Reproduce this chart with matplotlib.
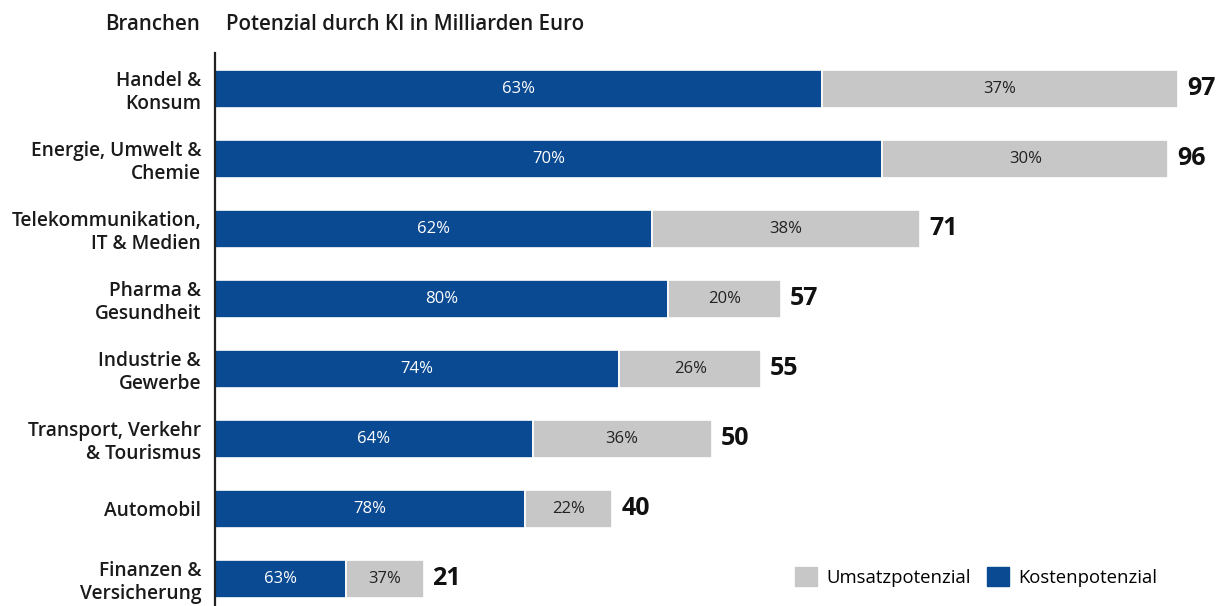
import numpy as np
import matplotlib.pyplot as plt
from matplotlib.patches import Patch

plt.rcParams['font.family'] = ['Open Sans', 'DejaVu Sans']

branchen = ['Handel &\nKonsum', 'Energie, Umwelt &\nChemie', 'Telekommunikation,\nIT & Medien',
            'Pharma &\nGesundheit', 'Industrie &\nGewerbe', 'Transport, Verkehr\n& Tourismus',
            'Automobil', 'Finanzen &\nVersicherung']
gesamt = [97, 96, 71, 57, 55, 50, 40, 21]
kosten_pct = [63, 70, 62, 80, 74, 64, 78, 63]
umsatz_pct = [37, 30, 38, 20, 26, 36, 22, 37]

blau = '#0a4a92'
grau = '#c6c7c6'

W, H = 1227, 606
fig = plt.figure(figsize=(W / 100, H / 100), dpi=100)
ax = fig.add_axes([215 / W, 0, 1012 / W, 553 / H])

y = np.arange(len(branchen))
kosten = np.array(gesamt) * np.array(kosten_pct) / 100
umsatz = np.array(gesamt) * np.array(umsatz_pct) / 100

ax.barh(y, kosten, height=0.55, color=blau, edgecolor='white', linewidth=1.2)
ax.barh(y, umsatz, left=kosten, height=0.55, color=grau, edgecolor='white', linewidth=1.2)

for i in range(len(branchen)):
    ax.text(kosten[i] / 2, y[i], f'{kosten_pct[i]}%', color='white', ha='center', va='center', fontsize=12)
    ax.text(kosten[i] + umsatz[i] / 2, y[i], f'{umsatz_pct[i]}%', color='#222222', ha='center', va='center', fontsize=12)
    ax.text(gesamt[i] + 0.9, y[i], str(gesamt[i]), ha='left', va='center', fontsize=18, fontweight='bold', color='#111111')

ax.set_xlim(0, 101.9)
ax.set_ylim(7.386, -0.514)
ax.set_yticks(y)
ax.set_yticklabels(branchen, fontsize=13.8, fontweight='semibold', color='#1a1a1a', linespacing=1.2)
ax.tick_params(axis='y', length=0, pad=10)
ax.set_xticks([])
for s in ['top', 'right', 'bottom']:
    ax.spines[s].set_visible(False)
ax.spines['left'].set_linewidth(1.6)
ax.spines['left'].set_color('#222222')

fig.text(200 / W, 1 - 25 / H, 'Branchen', ha='right', va='center', fontsize=14.8, fontweight='semibold', color='#1a1a1a')
fig.text(226 / W, 1 - 25 / H, 'Potenzial durch KI in Milliarden Euro', ha='left', va='center', fontsize=14.8, fontweight='semibold', color='#1a1a1a')

handles = [Patch(color=grau, label='Umsatzpotenzial'), Patch(color=blau, label='Kostenpotenzial')]
fig.legend(handles=handles, ncol=2, frameon=False, loc='center left', bbox_to_anchor=(778 / W, 1 - 577 / H),
           fontsize=13.3, handlelength=1.2, handleheight=1.2, handletextpad=0.5, columnspacing=0.9)

fig.savefig('out.png', dpi=100)
